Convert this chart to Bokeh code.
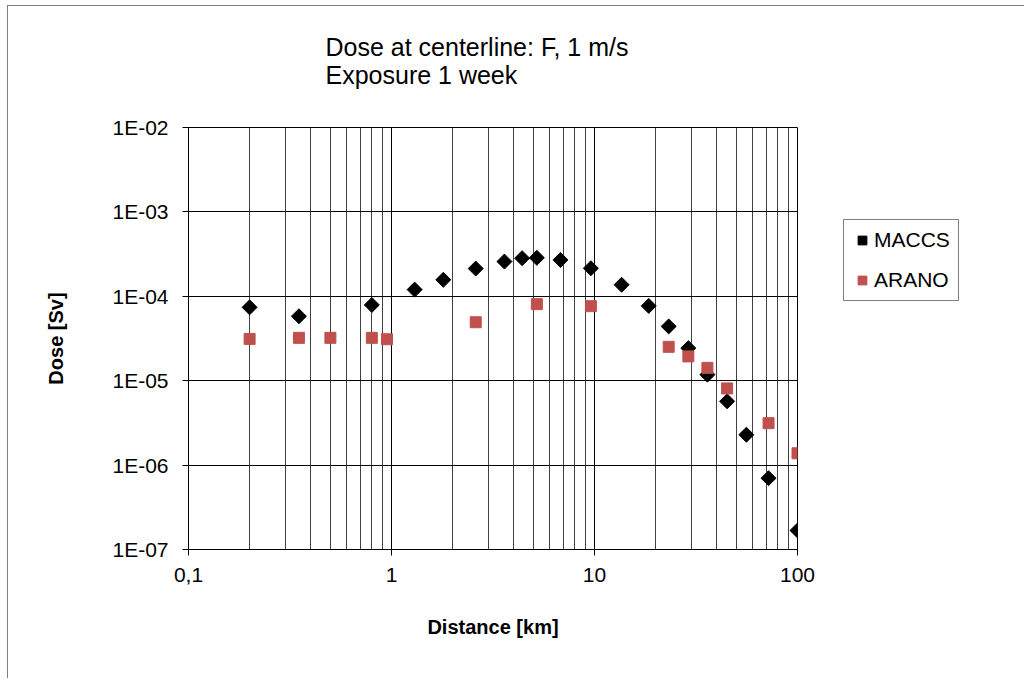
import math
from bokeh.plotting import figure
from bokeh.models import (Range1d, FixedTicker, CustomJSTickFormatter, Title,
                          Legend, LegendItem, ColumnDataSource)
from bokeh.embed import file_html
from bokeh.resources import INLINE

# ---- data ----
maccs_x = [0.2, 0.35, 0.8, 1.3, 1.8, 2.6, 3.6, 4.4, 5.2, 6.8, 9.6, 13.6,
           18.5, 23.2, 29, 36, 45, 56, 72, 100]
maccs_y = [7.4e-5, 5.8e-5, 7.9e-5, 1.2e-4, 1.57e-4, 2.13e-4, 2.58e-4, 2.83e-4,
           2.86e-4, 2.7e-4, 2.15e-4, 1.37e-4, 7.7e-5, 4.4e-5, 2.43e-5, 1.18e-5,
           5.7e-6, 2.29e-6, 7.0e-7, 1.68e-7]
arano_x = [0.2, 0.35, 0.5, 0.8, 0.95, 2.6, 5.2, 9.6, 23.2, 29, 36, 45, 72, 100]
arano_y = [3.13e-5, 3.22e-5, 3.22e-5, 3.22e-5, 3.1e-5, 4.93e-5, 8.07e-5,
           7.64e-5, 2.52e-5, 1.94e-5, 1.42e-5, 8.1e-6, 3.14e-6, 1.38e-6]
x_ticks = [0.1, 1, 10, 100]
y_ticks = [1e-7, 1e-6, 1e-5, 1e-4, 1e-3, 1e-2]
title_lines = ["Dose at centerline: F, 1 m/s", "Exposure 1 week"]
x_label = "Distance [km]"
y_label = "Dose [Sv]"
series_names = ["MACCS", "ARANO"]

FONT = "Liberation Sans"
RED = "#C0504D"

p = figure(frame_width=609, frame_height=422, output_backend="svg",
           toolbar_location=None,
           x_axis_type="log", y_axis_type="log",
           x_range=Range1d(0.1, 100), y_range=Range1d(1e-7, 1e-2),
           min_border_left=180, min_border_top=121, min_border_right=226,
           min_border_bottom=129)
p.styles = {"margin-left": "7px", "margin-top": "5px",
            "border-left": "1px solid #7f7f7f", "border-top": "1px solid #7f7f7f"}
p.background_fill_color = "white"
p.border_fill_color = "white"
p.outline_line_color = "black"
p.outline_line_width = 1

minor_x = [m * 10 ** e for e in (-1, 0, 1) for m in range(2, 10)]
p.xaxis.ticker = FixedTicker(ticks=x_ticks, minor_ticks=minor_x)
p.yaxis.ticker = FixedTicker(ticks=y_ticks)
p.xaxis.formatter = CustomJSTickFormatter(code="return String(tick).replace('.', ',');")
p.yaxis.formatter = CustomJSTickFormatter(code="""
const e = Math.round(Math.log10(tick));
return '1E' + (e < 0 ? '-' : '+') + String(Math.abs(e)).padStart(2, '0');
""")

for ax in (p.xaxis, p.yaxis):
    ax.axis_line_color = "black"
    ax.major_tick_line_color = "black"
    ax.major_tick_in = 0
    ax.major_tick_out = 6
    ax.minor_tick_line_color = None
    ax.major_label_text_font = FONT
    ax.major_label_text_font_size = "21px"
    ax.major_label_text_color = "black"
    ax.axis_label_text_font = FONT
    ax.axis_label_text_font_size = "20px"
    ax.axis_label_text_font_style = "bold"
    ax.axis_label_text_color = "black"

p.xaxis.major_label_standoff = 12
p.yaxis.major_label_standoff = 14
p.xaxis.axis_label = x_label
p.yaxis.axis_label = y_label
p.xaxis.axis_label_standoff = 31
p.yaxis.axis_label_standoff = 42

p.xgrid.grid_line_color = "black"
p.xgrid.minor_grid_line_color = "#404040"
p.ygrid.grid_line_color = "black"

src_m = ColumnDataSource(dict(x=maccs_x, y=maccs_y))
src_a = ColumnDataSource(dict(x=arano_x, y=arano_y))
r_m = p.scatter("x", "y", source=src_m, marker="square", size=10.6,
                angle=math.pi / 4, fill_color="black", line_color="black")
r_a = p.scatter("x", "y", source=src_a, marker="square", size=11,
                fill_color=RED, line_color=RED)

legend = Legend(items=[LegendItem(label=series_names[0], renderers=[r_m]),
                       LegendItem(label=series_names[1], renderers=[r_a])],
                location=(46, 248), orientation="vertical")
legend.label_text_font = FONT
legend.label_text_font_size = "21px"
legend.label_text_color = "black"
legend.border_line_color = "black"
legend.border_line_width = 1
legend.background_fill_color = "white"
legend.background_fill_alpha = 1
legend.padding = 7
legend.margin = 0
legend.spacing = 14
legend.glyph_height = 26
legend.glyph_width = 22
legend.label_height = 26
legend.label_width = 77
legend.label_standoff = 1
p.add_layout(legend, "right")

# a blank third line keeps the two title lines higher above the plot
title = Title(text="\n".join(title_lines + ["\u00a0"]), align="left",
              vertical_align="top", offset=137, standoff=18,
              text_font=FONT, text_font_size="25px", text_font_style="normal",
              text_color="black")
p.add_layout(title, "above")

open("out.html", "w").write(file_html(p, INLINE))
